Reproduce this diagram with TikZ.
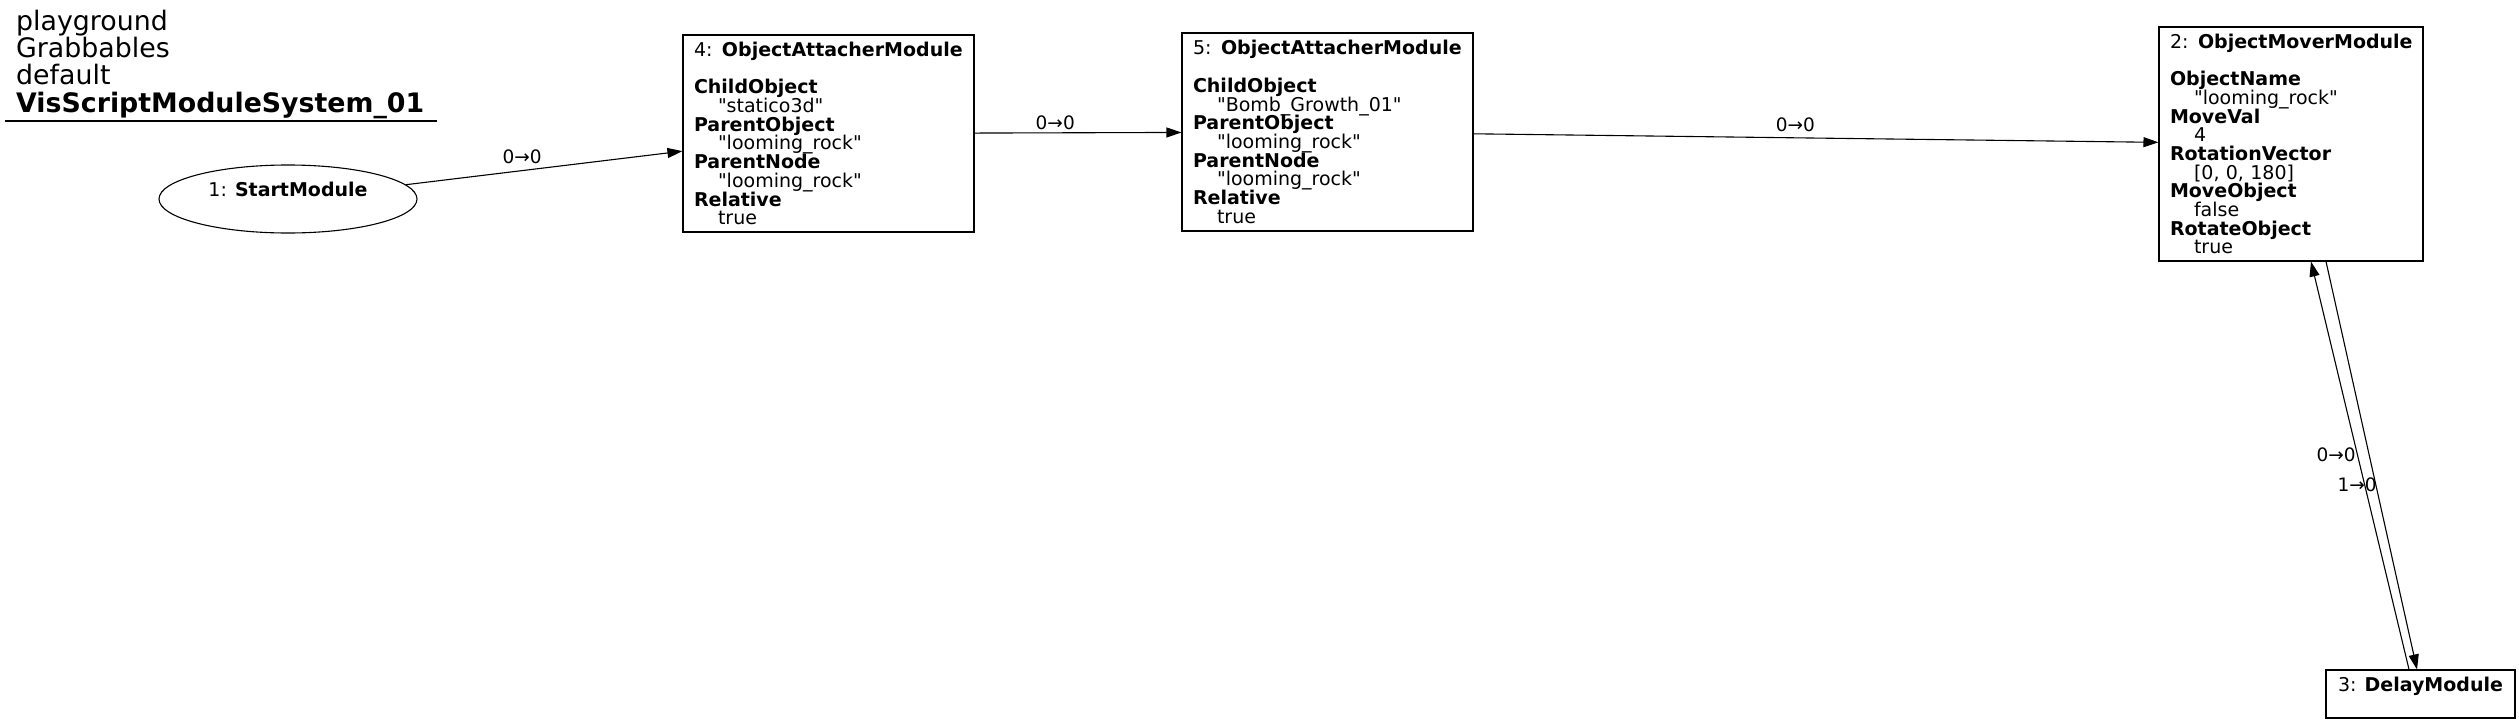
\documentclass[tikz,border=0pt]{standalone}
\usepackage{fontspec}
\setmainfont{DejaVu Sans}[Ligatures=TeXOff]
\usepackage{tikz}
\usetikzlibrary{shapes.geometric, arrows.meta}
\newcommand{\modfont}{\fontsize{19}{18.7}\selectfont\lineskiplimit=-50pt\hyphenpenalty=10000}
\newcommand{\prop}[2]{\textbf{#1}\\\hspace*{24pt}#2}

\begin{document}
\begin{tikzpicture}[x=1pt, y=-1pt]
    \tikzstyle{every node}=[inner sep=0pt];
    \tikzstyle{mod}=[draw, rectangle, line width=1.1pt, align=left, font=\modfont, inner xsep=11pt];
    \tikzstyle{link}=[line width=1.1pt, -{Triangle[length=15pt, width=10pt]}];
    \tikzstyle{lbl}=[font=\fontsize{18.5}{20}\selectfont];
    \tikzstyle{ttl}=[anchor=base west, font=\fontsize{26.8}{28}\selectfont];
    \useasboundingbox[fill=white] (0,0) rectangle (2519,723);

    % graph title
    \node[ttl] (t1) at (16,30) {playground};
    \node[ttl] (t2) at (16,57.3) {Grabbables};
    \node[ttl] (t3) at (16,84.6) {default};
    \node[ttl] (t4) at (16,112) {\textbf{VisScriptModuleSystem\_01}};
    \draw[line width=1.1pt] (5,121) -- (437,121);

    % modules
    \node[mod, ellipse, align=center, minimum width=258pt, minimum height=68pt] (m1) at (288,199)
        {1: \textbf{StartModule}\\\mbox{}};
    \node[mod, text width=269pt, minimum height=197pt] (m4) at (828.5,133.5)
        {\mbox{4: \textbf{ObjectAttacherModule}}\\[18.7pt]
         \prop{ChildObject}{"statico3d"}\\
         \prop{ParentObject}{"looming\_rock"}\\
         \prop{ParentNode}{"looming\_rock"}\\
         \prop{Relative}{true}};
    \node[mod, text width=269pt, minimum height=198pt] (m5) at (1327.5,132)
        {\mbox{5: \textbf{ObjectAttacherModule}}\\[18.7pt]
         \prop{ChildObject}{"Bomb\_Growth\_01"}\\
         \prop{ParentObject}{"looming\_rock"}\\
         \prop{ParentNode}{"looming\_rock"}\\
         \prop{Relative}{true}};
    \node[mod, text width=242pt, minimum height=234pt] (m2) at (2291,144)
        {\mbox{2: \textbf{ObjectMoverModule}}\\[18.7pt]
         \prop{ObjectName}{"looming\_rock"}\\
         \prop{MoveVal}{4}\\
         \prop{RotationVector}{[0, 0, 180]}\\
         \prop{MoveObject}{false}\\
         \prop{RotateObject}{true}};
    \node[mod, align=center, minimum width=189pt, minimum height=48pt] (m3) at (2420.5,694)
        {3: \textbf{DelayModule}\\\mbox{}};

    % links
    \draw[link] (m1) -- node[lbl, pos=0.42, yshift=14pt] (l1) {0→0} (m4);
    \draw[link] (m4) -- node[lbl, pos=0.39, yshift=10.5pt] (l2) {0→0} (m5);
    \draw[link] (m5) -- node[lbl, pos=0.47, yshift=12.8pt] (l3) {0→0} (m2);
    \draw[link] ([xshift=35pt]m2.south) -- node[lbl, pos=0.474, xshift=-33pt] (l4) {0→0} ([xshift=-3.5pt]m3.north);
    \draw[link] ([xshift=-11.5pt]m3.north) -- node[lbl, pos=0.452, xshift=-7.7pt] (l5) {1→0} ([xshift=20pt]m2.south);
\end{tikzpicture}
\end{document}
